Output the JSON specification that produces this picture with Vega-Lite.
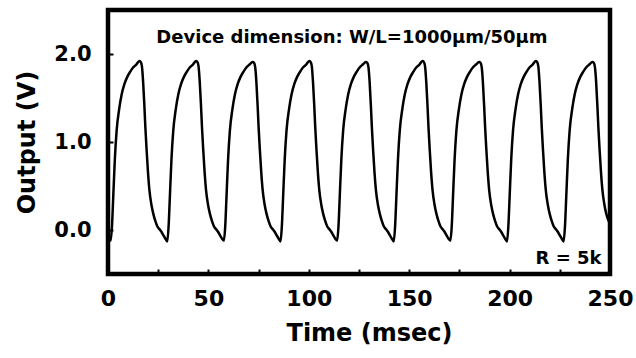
{
  "$schema": "https://vega.github.io/schema/vega-lite/v6.json",
  "autosize": {"type": "none"},
  "width": 502,
  "height": 264,
  "padding": {"left": 108, "top": 10, "right": 26, "bottom": 84},
  "background": "white",
  "config": {
    "view": {"stroke": "black", "strokeWidth": 4.5},
    "axis": {
      "domain": false,
      "grid": false,
      "labelFont": "DejaVu Sans",
      "labelFontWeight": "bold",
      "labelColor": "black",
      "titleFont": "DejaVu Sans",
      "titleFontWeight": "bold",
      "titleColor": "black",
      "tickColor": "black",
      "tickWidth": 2
    }
  },
  "layer": [
    {
      "data": {"values": [
        {"t":0,"v":-0.09},{"t":1.3,"v":-0.12},{"t":2.0,"v":0.05},{"t":2.6,"v":0.37},{"t":3.4,"v":0.80},{"t":4.3,"v":1.13},{"t":5.6,"v":1.38},{"t":6.8,"v":1.54},{"t":8.2,"v":1.66},{"t":9.6,"v":1.74},{"t":11.1,"v":1.80},{"t":12.6,"v":1.85},{"t":14.1,"v":1.88},{"t":15.6,"v":1.92},{"t":16.3,"v":1.91},{"t":16.9,"v":1.86},{"t":17.5,"v":1.68},{"t":18.1,"v":1.42},{"t":18.6,"v":1.17},{"t":19.2,"v":0.92},{"t":19.9,"v":0.66},{"t":20.6,"v":0.46},{"t":21.6,"v":0.29},{"t":22.6,"v":0.18},{"t":23.6,"v":0.10},{"t":24.6,"v":0.04},{"t":25.6,"v":0.01},{"t":26.6,"v":-0.02},{"t":27.6,"v":-0.06},{"t":28.6,"v":-0.10},
        {"t":29.5,"v":-0.13},{"t":30.2,"v":0.05},{"t":30.8,"v":0.37},{"t":31.6,"v":0.80},{"t":32.5,"v":1.13},{"t":33.8,"v":1.38},{"t":35.0,"v":1.54},{"t":36.4,"v":1.66},{"t":37.8,"v":1.74},{"t":39.3,"v":1.80},{"t":40.8,"v":1.85},{"t":42.3,"v":1.88},{"t":43.8,"v":1.92},{"t":44.5,"v":1.91},{"t":45.1,"v":1.86},{"t":45.7,"v":1.68},{"t":46.3,"v":1.42},{"t":46.8,"v":1.17},{"t":47.4,"v":0.92},{"t":48.1,"v":0.66},{"t":48.8,"v":0.46},{"t":49.8,"v":0.29},{"t":50.8,"v":0.18},{"t":51.8,"v":0.10},{"t":52.8,"v":0.04},{"t":53.8,"v":0.01},{"t":54.8,"v":-0.02},{"t":55.8,"v":-0.06},{"t":56.8,"v":-0.10},
        {"t":57.7,"v":-0.12},{"t":58.4,"v":0.05},{"t":59.0,"v":0.37},{"t":59.8,"v":0.80},{"t":60.7,"v":1.13},{"t":62.0,"v":1.38},{"t":63.2,"v":1.54},{"t":64.6,"v":1.66},{"t":66.0,"v":1.74},{"t":67.5,"v":1.80},{"t":69.0,"v":1.85},{"t":70.5,"v":1.88},{"t":72.0,"v":1.91},{"t":72.7,"v":1.90},{"t":73.3,"v":1.85},{"t":73.9,"v":1.68},{"t":74.5,"v":1.42},{"t":75.0,"v":1.17},{"t":75.6,"v":0.92},{"t":76.3,"v":0.66},{"t":77.0,"v":0.46},{"t":78.0,"v":0.29},{"t":79.0,"v":0.18},{"t":80.0,"v":0.10},{"t":81.0,"v":0.04},{"t":82.0,"v":0.01},{"t":83.0,"v":-0.02},{"t":84.0,"v":-0.06},{"t":85.0,"v":-0.10},
        {"t":85.9,"v":-0.13},{"t":86.6,"v":0.05},{"t":87.2,"v":0.37},{"t":88.0,"v":0.80},{"t":88.9,"v":1.13},{"t":90.2,"v":1.38},{"t":91.4,"v":1.54},{"t":92.8,"v":1.66},{"t":94.2,"v":1.74},{"t":95.7,"v":1.80},{"t":97.2,"v":1.85},{"t":98.7,"v":1.88},{"t":100.2,"v":1.92},{"t":100.9,"v":1.91},{"t":101.5,"v":1.86},{"t":102.1,"v":1.68},{"t":102.7,"v":1.42},{"t":103.2,"v":1.17},{"t":103.8,"v":0.92},{"t":104.5,"v":0.66},{"t":105.2,"v":0.46},{"t":106.2,"v":0.29},{"t":107.2,"v":0.18},{"t":108.2,"v":0.10},{"t":109.2,"v":0.04},{"t":110.2,"v":0.01},{"t":111.2,"v":-0.02},{"t":112.2,"v":-0.06},{"t":113.2,"v":-0.10},
        {"t":114.1,"v":-0.12},{"t":114.8,"v":0.05},{"t":115.4,"v":0.37},{"t":116.2,"v":0.80},{"t":117.1,"v":1.13},{"t":118.4,"v":1.38},{"t":119.6,"v":1.54},{"t":121.0,"v":1.66},{"t":122.4,"v":1.74},{"t":123.9,"v":1.80},{"t":125.4,"v":1.85},{"t":126.9,"v":1.88},{"t":128.4,"v":1.91},{"t":129.1,"v":1.90},{"t":129.7,"v":1.85},{"t":130.3,"v":1.68},{"t":130.9,"v":1.42},{"t":131.4,"v":1.17},{"t":132.0,"v":0.92},{"t":132.7,"v":0.66},{"t":133.4,"v":0.46},{"t":134.4,"v":0.29},{"t":135.4,"v":0.18},{"t":136.4,"v":0.10},{"t":137.4,"v":0.04},{"t":138.4,"v":0.01},{"t":139.4,"v":-0.02},{"t":140.4,"v":-0.06},{"t":141.4,"v":-0.10},
        {"t":142.3,"v":-0.13},{"t":143.0,"v":0.05},{"t":143.6,"v":0.37},{"t":144.4,"v":0.80},{"t":145.3,"v":1.13},{"t":146.6,"v":1.38},{"t":147.8,"v":1.54},{"t":149.2,"v":1.66},{"t":150.6,"v":1.74},{"t":152.1,"v":1.80},{"t":153.6,"v":1.85},{"t":155.1,"v":1.88},{"t":156.6,"v":1.92},{"t":157.3,"v":1.91},{"t":157.9,"v":1.86},{"t":158.5,"v":1.68},{"t":159.1,"v":1.42},{"t":159.6,"v":1.17},{"t":160.2,"v":0.92},{"t":160.9,"v":0.66},{"t":161.6,"v":0.46},{"t":162.6,"v":0.29},{"t":163.6,"v":0.18},{"t":164.6,"v":0.10},{"t":165.6,"v":0.04},{"t":166.6,"v":0.01},{"t":167.6,"v":-0.02},{"t":168.6,"v":-0.06},{"t":169.6,"v":-0.10},
        {"t":170.5,"v":-0.12},{"t":171.2,"v":0.05},{"t":171.8,"v":0.37},{"t":172.6,"v":0.80},{"t":173.5,"v":1.13},{"t":174.8,"v":1.38},{"t":176.0,"v":1.54},{"t":177.4,"v":1.66},{"t":178.8,"v":1.74},{"t":180.3,"v":1.80},{"t":181.8,"v":1.85},{"t":183.3,"v":1.88},{"t":184.8,"v":1.91},{"t":185.5,"v":1.90},{"t":186.1,"v":1.85},{"t":186.7,"v":1.68},{"t":187.3,"v":1.42},{"t":187.8,"v":1.17},{"t":188.4,"v":0.92},{"t":189.1,"v":0.66},{"t":189.8,"v":0.46},{"t":190.8,"v":0.29},{"t":191.8,"v":0.18},{"t":192.8,"v":0.10},{"t":193.8,"v":0.04},{"t":194.8,"v":0.01},{"t":195.8,"v":-0.02},{"t":196.8,"v":-0.06},{"t":197.8,"v":-0.10},
        {"t":198.7,"v":-0.13},{"t":199.4,"v":0.05},{"t":200.0,"v":0.37},{"t":200.8,"v":0.80},{"t":201.7,"v":1.13},{"t":203.0,"v":1.38},{"t":204.2,"v":1.54},{"t":205.6,"v":1.66},{"t":207.0,"v":1.74},{"t":208.5,"v":1.80},{"t":210.0,"v":1.85},{"t":211.5,"v":1.88},{"t":213.0,"v":1.92},{"t":213.7,"v":1.91},{"t":214.3,"v":1.86},{"t":214.9,"v":1.68},{"t":215.5,"v":1.42},{"t":216.0,"v":1.17},{"t":216.6,"v":0.92},{"t":217.3,"v":0.66},{"t":218.0,"v":0.46},{"t":219.0,"v":0.29},{"t":220.0,"v":0.18},{"t":221.0,"v":0.10},{"t":222.0,"v":0.04},{"t":223.0,"v":0.01},{"t":224.0,"v":-0.02},{"t":225.0,"v":-0.06},{"t":226.0,"v":-0.10},
        {"t":226.9,"v":-0.13},{"t":227.6,"v":0.05},{"t":228.2,"v":0.37},{"t":229.0,"v":0.80},{"t":229.9,"v":1.13},{"t":231.2,"v":1.38},{"t":232.4,"v":1.54},{"t":233.8,"v":1.66},{"t":235.2,"v":1.74},{"t":236.7,"v":1.80},{"t":238.2,"v":1.85},{"t":239.7,"v":1.88},{"t":241.2,"v":1.91},{"t":241.9,"v":1.90},{"t":242.5,"v":1.85},{"t":243.1,"v":1.68},{"t":243.7,"v":1.42},{"t":244.2,"v":1.17},{"t":244.8,"v":0.92},{"t":245.5,"v":0.66},{"t":246.2,"v":0.46},{"t":247.2,"v":0.29},{"t":248.2,"v":0.18},{"t":249.2,"v":0.11},{"t":250.0,"v":0.07}
      ]},
      "mark": {"type": "line", "color": "black", "strokeWidth": 2.5, "interpolate": "monotone", "clip": true},
      "encoding": {
        "x": {
          "field": "t", "type": "quantitative",
          "scale": {"domain": [0, 250], "nice": false},
          "axis": {
            "values": [0, 25, 50, 75, 100, 125, 150, 175, 200, 225, 250],
            "labelExpr": "datum.value % 50 == 0 ? datum.label : ''",
            "labelFontSize": 22,
            "labelPadding": 19,
            "labelFlush": false,
            "tickSize": -5,
            "title": "Time (msec)",
            "titleFontSize": 24,
            "titlePadding": 12,
            "titleX": 261
          }
        },
        "y": {
          "field": "v", "type": "quantitative",
          "scale": {"domain": [-0.5, 2.5], "nice": false, "zero": false},
          "axis": {
            "values": [0, 1, 2],
            "format": ".1f",
            "labelFontSize": 21,
            "labelPadding": 22,
            "labelFlush": false,
            "tickSize": -5,
            "title": "Output (V)",
            "titleFontSize": 24,
            "titlePadding": 14
          }
        }
      }
    },
    {
      "data": {"values": [
        {"label": "Device dimension: W/L=1000μm/50μm", "t": 121.5, "v": 2.12}
      ]},
      "mark": {"type": "text", "font": "DejaVu Sans", "fontWeight": "bold", "fontSize": 18, "align": "center", "baseline": "alphabetic", "color": "black"},
      "encoding": {
        "x": {"field": "t", "type": "quantitative"},
        "y": {"field": "v", "type": "quantitative"},
        "text": {"field": "label"}
      }
    },
    {
      "data": {"values": [
        {"label": "R = 5k", "t": 245.8, "v": -0.39}
      ]},
      "mark": {"type": "text", "font": "DejaVu Sans", "fontWeight": "bold", "fontSize": 18, "align": "right", "baseline": "alphabetic", "color": "black"},
      "encoding": {
        "x": {"field": "t", "type": "quantitative"},
        "y": {"field": "v", "type": "quantitative"},
        "text": {"field": "label"}
      }
    }
  ]
}
